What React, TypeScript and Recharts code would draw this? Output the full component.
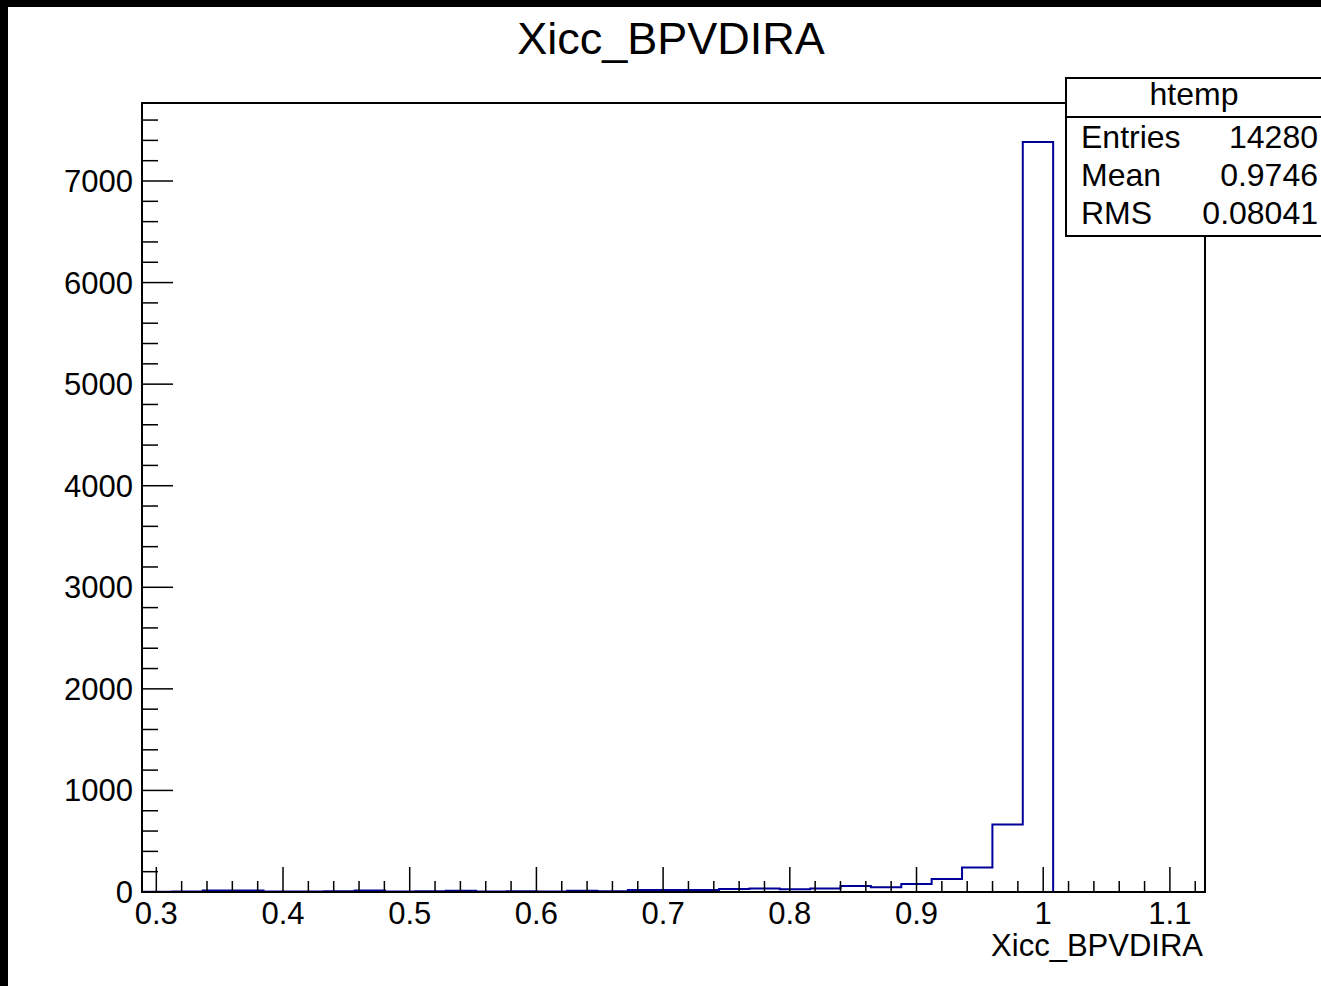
import React from "react";
import {
  ComposedChart,
  Line,
  XAxis,
  YAxis,
  ReferenceArea,
} from "recharts";

// histogram binning (35 bins)
const X_MIN = 0.2887;
const X_MAX = 1.1277;
const Y_MAX = 7768;

const binCounts = [
  3, 4, 15, 14, 4, 5, 8, 14, 6, 7, 12, 6, 7, 6, 12, 8,
  20, 20, 20, 30, 35, 28, 35, 58, 48, 78, 128, 240, 665, 7384,
  0, 0, 0, 0, 0,
];

const xMajorTicks = [0.3, 0.4, 0.5, 0.6, 0.7, 0.8, 0.9, 1, 1.1];
const yMajorTicks = [0, 1000, 2000, 3000, 4000, 5000, 6000, 7000];

const statsRows = [
  { label: "Entries", value: "14280" },
  { label: "Mean", value: "0.9746" },
  { label: "RMS", value: "0.08041" },
];

const FONT = "'Liberation Sans', Arial, Helvetica, sans-serif";
const HIST_COLOR = "#000099";

const binWidth = (X_MAX - X_MIN) / binCounts.length;
const data = binCounts.map((count, i) => ({ x: X_MIN + i * binWidth, count }));
data.push({ x: X_MAX, count: binCounts[binCounts.length - 1] });

// minor ticks every 0.02 on x, every 200 on y
const xTicks: number[] = [];
for (let k = 15; k <= 56; k++) xTicks.push(k / 50);
const yTicks: number[] = [];
for (let v = 0; v < Y_MAX; v += 200) yTicks.push(v);

const isMajorX = (v: number) => xMajorTicks.some((t) => Math.abs(t - v) < 1e-6);
const isMajorY = (v: number) => yMajorTicks.includes(v);

function XTick(props: any) {
  const { x, y, payload } = props;
  const major = isMajorX(payload.value);
  return (
    <g>
      <line x1={x} x2={x} y1={y} y2={y - (major ? 25 : 11)} stroke="#000" strokeWidth={1.5} />
      {major && (
        <text x={x} y={y + 32} textAnchor="middle" fontSize={31} fontFamily={FONT} fill="#000">
          {String(Math.round(payload.value * 10) / 10)}
        </text>
      )}
    </g>
  );
}

function YTick(props: any) {
  const { x, y, payload } = props;
  const major = isMajorY(payload.value);
  return (
    <g>
      <line x1={x} x2={x + (major ? 31 : 16)} y1={y} y2={y} stroke="#000" strokeWidth={1.5} />
      {major && (
        <text x={x - 9} y={y + 11} textAnchor="end" fontSize={31} fontFamily={FONT} fill="#000">
          {payload.value}
        </text>
      )}
    </g>
  );
}

export default function App() {
  return (
    <div style={{ position: "absolute", left: 0, top: 0, width: 1321, height: 986, background: "#000" }}>
      <div
        style={{
          position: "absolute",
          left: 8,
          top: 7,
          width: 1313,
          height: 979,
          background: "#fff",
          overflow: "hidden",
        }}
      >
        <ComposedChart
          width={1313}
          height={979}
          data={data}
          margin={{ top: 96, right: 116, left: 0, bottom: 0 }}
        >
          <XAxis
            dataKey="x"
            type="number"
            domain={[X_MIN, X_MAX]}
            allowDataOverflow
            ticks={xTicks}
            interval={0}
            height={94}
            tickSize={0}
            tickMargin={0}
            tick={<XTick />}
            axisLine={{ stroke: "#000", strokeWidth: 2 }}
          />
          <YAxis
            type="number"
            domain={[0, Y_MAX]}
            allowDataOverflow
            ticks={yTicks}
            interval={0}
            width={134}
            tickSize={0}
            tickMargin={0}
            tick={<YTick />}
            axisLine={{ stroke: "#000", strokeWidth: 2 }}
          />
          <ReferenceArea
            x1={X_MIN}
            x2={X_MAX}
            y1={0}
            y2={Y_MAX}
            fill="none"
            fillOpacity={0}
            stroke="#000"
            strokeWidth={2}
            strokeOpacity={1}
          />
          <Line
            type="stepAfter"
            dataKey="count"
            stroke={HIST_COLOR}
            strokeWidth={2}
            dot={false}
            activeDot={false}
            isAnimationActive={false}
          />
        </ComposedChart>

        <svg
          width={1313}
          height={979}
          style={{ position: "absolute", left: 0, top: 0, pointerEvents: "none" }}
        >
          <text x={663} y={47} textAnchor="middle" fontSize={45} fontFamily={FONT} fill="#000">
            Xicc_BPVDIRA
          </text>
          <text x={1195} y={949} textAnchor="end" fontSize={31} fontFamily={FONT} fill="#000">
            Xicc_BPVDIRA
          </text>

          <rect x={1058} y={71} width={300} height={158} fill="#fff" stroke="#000" strokeWidth={2} />
          <line x1={1058} x2={1358} y1={110} y2={110} stroke="#000" strokeWidth={2} />
          <text x={1186} y={98} textAnchor="middle" fontSize={32} fontFamily={FONT} fill="#000">
            htemp
          </text>
          {statsRows.map((r, i) => (
            <g key={r.label}>
              <text x={1073} y={141 + i * 38} fontSize={32} fontFamily={FONT} fill="#000">
                {r.label}
              </text>
              <text x={1310} y={141 + i * 38} textAnchor="end" fontSize={32} fontFamily={FONT} fill="#000">
                {r.value}
              </text>
            </g>
          ))}
        </svg>
      </div>
    </div>
  );
}
